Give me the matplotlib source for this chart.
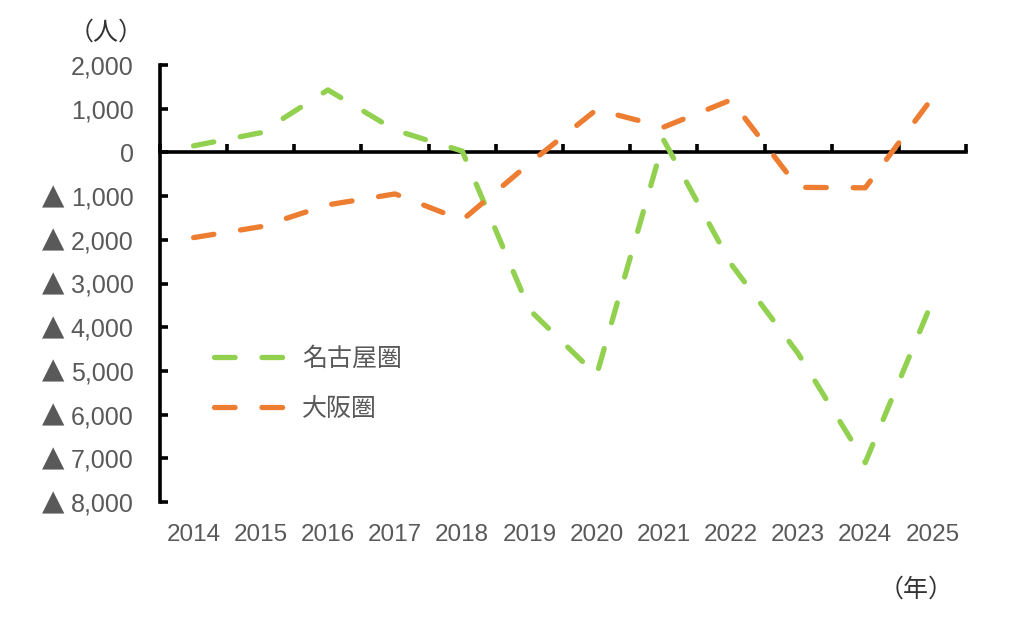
import matplotlib
matplotlib.use("Agg")
import matplotlib.pyplot as plt
from matplotlib import font_manager
from matplotlib.ticker import FuncFormatter, FixedLocator
from matplotlib.transforms import blended_transform_factory

# データ（社会増減, 人）
years = ["2014", "2015", "2016", "2017", "2018", "2019",
         "2020", "2021", "2022", "2023", "2024", "2025"]
nagoya = [150, 450, 1430, 510, 30, -3600, -5100, 280, -2550, -4600, -7100, -3400]
osaka = [-1950, -1700, -1200, -950, -1550, -250, 980, 580, 1200, -800, -810, 1250]
series_names = ["名古屋圏", "大阪圏"]
yticks = list(range(-8000, 2001, 1000))

green = "#92D050"
orange = "#ED7D31"
grey = "#595959"

names = {f.name for f in font_manager.fontManager.ttflist}
narrow = "Liberation Sans Narrow" if "Liberation Sans Narrow" in names else "Liberation Sans"
cjk = ["Noto Sans CJK JP", "DejaVu Sans"]

fig = plt.figure(figsize=(10.24, 6.39), dpi=100)
ax = fig.add_axes([160 / 1024, 1 - 502 / 639, 806 / 1024, 437 / 639])

x = list(range(len(years)))
lw = 3.8
dash = (0, (3.9, 5.1))
ax.plot(x, nagoya, color=green, lw=lw, linestyle=dash, dash_capstyle="round",
        label=series_names[0], clip_on=False, zorder=3)
ax.plot(x, osaka, color=orange, lw=lw, linestyle=dash, dash_capstyle="round",
        label=series_names[1], clip_on=False, zorder=3)

ax.set_xlim(-0.5, len(years) - 0.5)
ax.set_ylim(-8000, 2000)

for s in ["top", "right"]:
    ax.spines[s].set_visible(False)
ax.spines["bottom"].set_position(("data", 0))
ax.spines["bottom"].set_linewidth(2.6)
ax.spines["left"].set_linewidth(2.6)
ax.spines["bottom"].set_zorder(2)

ax.xaxis.set_major_locator(FixedLocator([i - 0.5 for i in range(len(years) + 1)]))
ax.tick_params(axis="x", direction="in", length=6, width=2.6, labelbottom=False)
ax.set_yticks(yticks)
ax.tick_params(axis="y", direction="in", length=6, width=2.6, pad=19,
               labelsize=18, labelcolor=grey)


def fmt(v, pos):
    return "{:,}".format(abs(int(round(v))))


ax.yaxis.set_major_formatter(FuncFormatter(fmt))
for t in ax.get_yticklabels():
    t.set_family(["Liberation Sans", "DejaVu Sans"])

# マイナス表示の▲
tri_tr = blended_transform_factory(fig.transFigure, ax.transData)
for v in yticks:
    if v < 0:
        fig.text(53 / 1024, v, "▲", transform=tri_tr, ha="center", va="center",
                 fontsize=21, color=grey, family=["DejaVu Sans"])

# 年ラベル（グラフ下）
lab_tr = blended_transform_factory(ax.transData, fig.transFigure)
for i, y in enumerate(years):
    ax.text(i, 1 - 535 / 639, y, transform=lab_tr, ha="center", va="center",
            fontsize=17.5, color=grey, family=narrow)

fig.text(106 / 1024, 1 - 33 / 639, "（人）", ha="center", va="center",
         fontsize=18, color="#333333", family=cjk)
fig.text(916 / 1024, 1 - 590 / 639, "（年）", ha="center", va="center",
         fontsize=18, color="#333333", family=cjk)

leg = ax.legend(loc="upper left", bbox_to_anchor=(214 / 1024, 1 - 346 / 639),
                bbox_transform=fig.transFigure, frameon=False, handlelength=2.75,
                handletextpad=0.77, labelspacing=0.95, borderpad=0, borderaxespad=0,
                prop={"family": cjk, "size": 18})
for t in leg.get_texts():
    t.set_color(grey)

fig.savefig("out.png", dpi=100)
